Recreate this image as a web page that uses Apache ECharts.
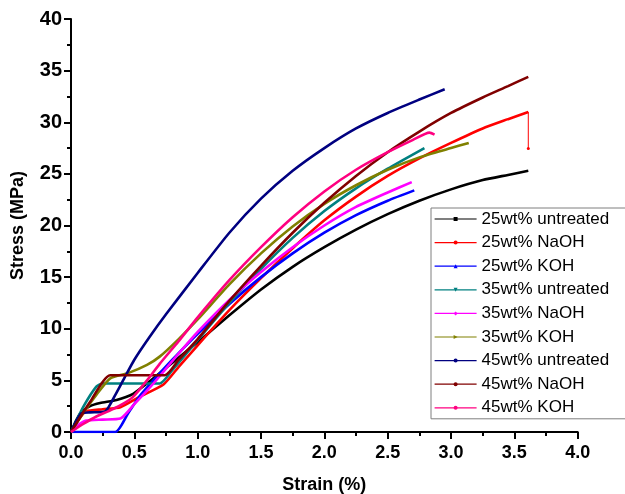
<!DOCTYPE html>
<html>
<head>
<meta charset="utf-8">
<script src="https://cdn.jsdelivr.net/npm/echarts@6/dist/echarts.min.js"></script>
<style>
  html, body { margin: 0; padding: 0; background: #fff; }
  #chart { width: 625px; height: 494px; }
</style>
</head>
<body>
<div id="chart"></div>
<script>
// Tensile stress-strain curves: [strain (%), stress (MPa)]
const seriesNames = [
  '25wt% untreated', '25wt% NaOH', '25wt% KOH',
  '35wt% untreated', '35wt% NaOH', '35wt% KOH',
  '45wt% untreated', '45wt% NaOH', '45wt% KOH'
];

const untreated25 = [[0,0],[0.04,1.1],[0.08,1.9],[0.15,2.5],[0.23,2.8],[0.36,3.1],[0.49,3.7],[0.6,4.7],[0.75,6.2],[1.0,8.7],[1.25,11.3],[1.5,13.8],[1.75,16.0],[2.0,17.9],[2.25,19.6],[2.5,21.1],[2.75,22.4],[3.0,23.5],[3.25,24.4],[3.45,24.9],[3.61,25.3]];
const naoh25 = [[0,0],[0.06,1.2],[0.12,2.0],[0.25,2.2],[0.39,2.4],[0.54,3.4],[0.73,4.6],[0.85,6.3],[1.0,8.4],[1.25,11.8],[1.5,14.9],[1.75,17.8],[2.0,20.5],[2.25,22.8],[2.5,24.8],[2.75,26.5],[3.0,28.0],[3.25,29.4],[3.45,30.3],[3.61,31.0]];
const naoh25Drop = [[3.61,31.0],[3.61,27.45]];
const koh25 = [[0,0],[0.35,0],[0.45,1.8],[0.55,3.6],[0.65,5.0],[0.8,7.0],[1.0,9.5],[1.25,12.4],[1.5,15.0],[1.75,17.3],[2.0,19.3],[2.25,21.0],[2.5,22.4],[2.71,23.4]];
const untreated35 = [[0,0],[0.1,2.5],[0.2,4.4],[0.25,4.7],[0.7,4.7],[0.8,6.0],[1.0,8.9],[1.25,12.5],[1.5,15.8],[1.75,18.8],[2.0,21.4],[2.25,23.6],[2.5,25.5],[2.79,27.5]];
const naoh35 = [[0,0],[0.06,0.7],[0.12,1.1],[0.25,1.2],[0.39,1.3],[0.5,2.7],[0.6,4.0],[0.7,5.4],[0.85,7.6],[1.0,9.7],[1.25,12.8],[1.5,15.5],[1.75,17.9],[2.0,20.0],[2.25,21.8],[2.5,23.2],[2.69,24.2]];
const koh35 = [[0,0],[0.1,1.9],[0.2,3.6],[0.31,5.2],[0.45,5.7],[0.6,6.5],[0.7,7.3],[0.85,9.0],[1.0,10.9],[1.25,14.3],[1.5,17.3],[1.75,19.9],[2.0,22.1],[2.25,23.9],[2.5,25.4],[2.75,26.6],[3.0,27.5],[3.14,28.0]];
const untreated45 = [[0,0],[0.08,1.8],[0.15,1.9],[0.27,2.0],[0.35,3.6],[0.42,5.2],[0.5,7.0],[0.62,9.2],[0.75,11.4],[1.0,15.4],[1.25,19.3],[1.5,22.6],[1.75,25.3],[2.0,27.5],[2.25,29.4],[2.5,30.9],[2.75,32.2],[2.95,33.2]];
const naoh45 = [[0,0],[0.15,2.9],[0.31,5.5],[0.74,5.5],[0.85,7.0],[1.0,9.0],[1.25,12.7],[1.5,16.1],[1.75,19.3],[2.0,22.2],[2.25,24.8],[2.5,27.1],[2.75,29.1],[3.0,30.9],[3.25,32.4],[3.45,33.5],[3.61,34.4]];
const koh45 = [[0,0],[0.1,0.8],[0.2,1.5],[0.31,2.1],[0.42,2.8],[0.49,3.4],[0.6,5.0],[0.7,6.6],[0.85,8.8],[1.0,11.1],[1.25,14.7],[1.5,17.9],[1.75,20.8],[2.0,23.3],[2.25,25.4],[2.5,27.1],[2.7,28.3],[2.83,29.0],[2.87,28.8]];

const xTicks = { min: 0, max: 4, interval: 0.5 };
const yTicks = { min: 0, max: 40, interval: 5 };

const curves = [untreated25, naoh25, koh25, untreated35, naoh35, koh35, untreated45, naoh45, koh45];
const colors = ['#000000', '#ff0000', '#0000ff', '#008080', '#ff00ff', '#808000', '#000080', '#800000', '#ff0080'];
const symbols = ['rect', 'circle', 'triangle', 'path://M0,0L10,0L5,10Z', 'diamond', 'path://M0,0L10,5L0,10Z', 'circle', 'circle', 'circle'];

const FONT = '"Liberation Sans", Arial, sans-serif';

const series = curves.map((d, i) => ({
  name: seriesNames[i],
  type: 'line',
  data: d,
  smooth: 0.2,
  symbol: symbols[i],
  showSymbol: false,
  color: colors[i],
  lineStyle: { width: 2.6, color: colors[i] },
  z: 2 + i
}));

// thin drop at the break point of the 25wt% NaOH specimen; marker only at its lower end
series.push({
  name: 'naoh25-break',
  type: 'line',
  data: naoh25Drop.map((p, i) => i === 0 ? { value: p, symbolSize: 0 } : { value: p }),
  symbol: 'circle',
  symbolSize: 3,
  showSymbol: true,
  showAllSymbol: true,
  color: '#ff0000',
  lineStyle: { width: 1, color: '#ff0000' },
  itemStyle: { color: '#ff0000' },
  z: 3
});

const chart = echarts.init(document.getElementById('chart'), null, { renderer: 'canvas' });
chart.setOption({
  animation: false,
  backgroundColor: '#ffffff',
  grid: { left: 71, right: 47.3, top: 19, bottom: 62, containLabel: false, outerBoundsMode: 'none' },
  xAxis: {
    type: 'value',
    min: xTicks.min, max: xTicks.max, interval: xTicks.interval,
    name: 'Strain (%)',
    nameLocation: 'middle',
    nameGap: 44,
    nameTextStyle: { fontFamily: FONT, fontWeight: 'bold', fontSize: 18, color: '#000' },
    axisLine: { show: true, onZero: false, lineStyle: { color: '#000', width: 2 } },
    axisTick: { show: true, inside: false, length: 7, lineStyle: { color: '#000', width: 2 } },
    minorTick: { show: true, splitNumber: 2, length: 4, lineStyle: { color: '#000', width: 2 } },
    splitLine: { show: false },
    axisLabel: { fontFamily: FONT, fontWeight: 'bold', fontSize: 18, color: '#000', margin: 12,
      formatter: v => v.toFixed(1) }
  },
  yAxis: {
    type: 'value',
    min: yTicks.min, max: yTicks.max, interval: yTicks.interval,
    name: 'Stress (MPa)',
    nameLocation: 'middle',
    nameGap: 44,
    nameTextStyle: { fontFamily: FONT, fontWeight: 'bold', fontSize: 18, color: '#000' },
    axisLine: { show: true, onZero: false, lineStyle: { color: '#000', width: 2 } },
    axisTick: { show: true, inside: false, length: 7, lineStyle: { color: '#000', width: 2 } },
    minorTick: { show: true, splitNumber: 2, length: 4, lineStyle: { color: '#000', width: 2 } },
    splitLine: { show: false },
    axisLabel: { fontFamily: FONT, fontWeight: 'bold', fontSize: 20, color: '#000', margin: 9 }
  },
  legend: {
    orient: 'vertical',
    left: 431,
    top: 208,
    data: seriesNames,
    itemWidth: 42,
    itemHeight: 5,
    itemGap: 3.6,
    padding: [1, 24, 1, 3],
    backgroundColor: '#ffffff',
    borderColor: '#7f7f7f',
    borderWidth: 1,
    borderRadius: 0,
    lineStyle: { width: 1.2 },
    textStyle: { fontFamily: FONT, fontSize: 17, color: '#000', lineHeight: 20 },
    selectedMode: false
  },
  series: series
});
</script>
</body>
</html>
